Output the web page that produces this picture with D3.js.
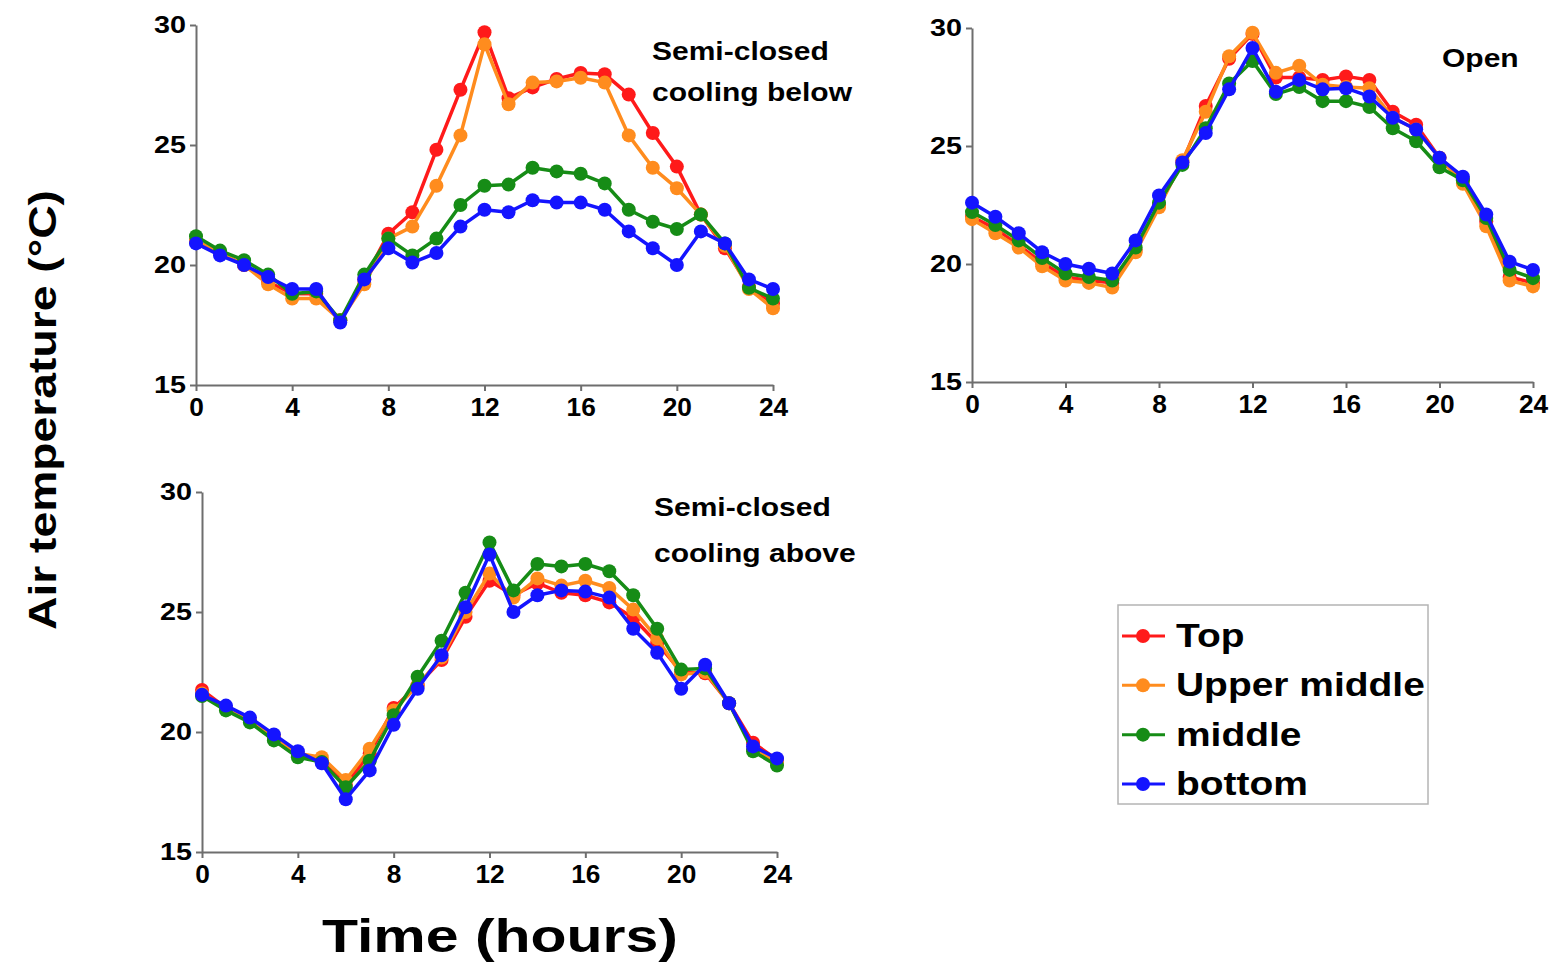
<!DOCTYPE html>
<html>
<head>
<meta charset="utf-8">
<script src="https://cdn.jsdelivr.net/npm/d3@7"></script>
<style>
  html, body { margin: 0; padding: 0; background: #fff; }
  svg { display: block; font-family: "Liberation Sans", Arial, sans-serif; font-weight: bold; }
</style>
</head>
<body>
<svg id="chart" width="1553" height="969"></svg>
<script>
// Air temperature by height, three greenhouse set-ups
// --- data ---
const hours = d3.range(0, 25);
const seriesNames = ['Top', 'Upper middle', 'middle', 'bottom'];
const xTicks = [0, 4, 8, 12, 16, 20, 24];
const yTicks = [15, 20, 25, 30];

// Semi-closed, cooling below
const belowTop    = [21.0,20.5,20.0,19.3,18.8,18.8,17.7,19.4,21.3,22.2,24.8,27.3,29.7,26.95,27.4,27.75,28.0,27.95,27.1,25.5,24.1,22.1,20.7,19.1,18.4];
const belowUpper  = [21.0,20.5,20.0,19.2,18.6,18.6,17.7,19.2,21.1,21.6,23.3,25.4,29.2,26.7,27.6,27.65,27.8,27.6,25.4,24.05,23.2,22.1,20.8,19.0,18.2];
const belowMiddle = [21.2,20.6,20.2,19.6,18.8,18.9,17.7,19.6,21.1,20.4,21.1,22.5,23.3,23.35,24.05,23.9,23.8,23.4,22.3,21.8,21.5,22.1,20.9,19.05,18.6];
const belowBottom = [20.9,20.4,20.0,19.5,19.0,19.0,17.6,19.4,20.7,20.1,20.5,21.6,22.3,22.2,22.7,22.6,22.6,22.3,21.4,20.7,20.0,21.4,20.9,19.4,19.0];

// Open
const openTop    = [22.0,21.5,20.8,20.05,19.45,19.3,19.2,20.6,22.5,24.3,26.7,28.7,29.75,27.9,27.9,27.8,27.95,27.8,26.45,25.9,24.5,23.6,21.8,19.45,19.2];
const openUpper  = [21.9,21.3,20.7,19.9,19.3,19.2,19.0,20.5,22.4,24.4,26.45,28.8,29.8,28.1,28.4,27.6,27.5,27.45,26.2,25.7,24.5,23.4,21.6,19.3,19.05];
const openMiddle = [22.2,21.65,21.0,20.25,19.6,19.45,19.3,20.7,22.6,24.2,25.75,27.65,28.6,27.2,27.5,26.9,26.9,26.65,25.75,25.2,24.1,23.55,21.95,19.75,19.4];
const openBottom = [22.6,22.0,21.3,20.5,20.0,19.8,19.6,21.0,22.9,24.3,25.55,27.4,29.15,27.3,27.8,27.4,27.45,27.1,26.2,25.7,24.5,23.7,22.1,20.1,19.75];

// Semi-closed, cooling above
const aboveTop    = [21.75,21.0,20.5,19.8,19.1,18.8,17.8,19.1,21.0,21.95,23.0,24.8,26.3,25.7,26.2,25.8,25.7,25.4,24.75,23.7,22.5,22.45,21.2,19.55,18.85];
const aboveUpper  = [21.6,21.0,20.5,19.8,19.1,18.95,18.0,19.3,20.9,21.95,23.1,25.0,26.6,25.6,26.4,26.1,26.3,26.0,25.1,23.9,22.4,22.5,21.2,19.3,18.75];
const aboveMiddle = [21.5,20.9,20.4,19.65,18.95,18.75,17.7,18.8,20.7,22.3,23.8,25.8,27.9,25.9,27.0,26.9,27.0,26.7,25.7,24.3,22.6,22.65,21.2,19.2,18.6];
const aboveBottom = [21.55,21.1,20.6,19.9,19.2,18.7,17.2,18.4,20.3,21.8,23.2,25.2,27.4,25.0,25.7,25.9,25.85,25.6,24.3,23.3,21.8,22.8,21.2,19.4,18.9];

// --- layout ---
const COLORS = ['#ff1a1a', '#ff8c1e', '#168c16', '#1414ff'];
const AXIS_COLOR = '#6e6e6e';

const panels = [
    { label: ['Semi-closed', 'cooling below'], series: [belowTop, belowUpper, belowMiddle, belowBottom],
      x0: 196, x1: 773, yTop: 25, yBot: 385, labelX: 652, labelY: [60, 101] },
    { label: ['Open'], series: [openTop, openUpper, openMiddle, openBottom],
      x0: 972, x1: 1533, yTop: 28, yBot: 382, labelX: 1442, labelY: [67] },
    { label: ['Semi-closed', 'cooling above'], series: [aboveTop, aboveUpper, aboveMiddle, aboveBottom],
      x0: 202, x1: 777, yTop: 492, yBot: 852, labelX: 654, labelY: [516, 562] }
];

const svg = d3.select('#chart');

// widen text horizontally like the original (figure was stretched)
function stretch(sel, k) {
    sel.each(function() {
        const len = this.getComputedTextLength();
        d3.select(this).attr('textLength', len * k).attr('lengthAdjust', 'spacingAndGlyphs');
    });
}

panels.forEach(p => {
    const x = d3.scaleLinear().domain([0, 24]).range([p.x0, p.x1]);
    const y = d3.scaleLinear().domain([15, 30]).range([p.yBot, p.yTop]);
    const g = svg.append('g');

    // axes
    const xAxis = g.append('g')
        .attr('transform', `translate(0,${p.yBot})`)
        .call(d3.axisBottom(x).tickValues(xTicks).tickSize(6).tickSizeOuter(0).tickPadding(7));
    const yAxis = g.append('g')
        .attr('transform', `translate(${p.x0},0)`)
        .call(d3.axisLeft(y).tickValues(yTicks).tickSize(6).tickSizeOuter(0).tickPadding(4));

    [xAxis, yAxis].forEach(a => {
        a.select('.domain').attr('stroke', AXIS_COLOR).attr('stroke-width', 2);
        a.selectAll('.tick line').attr('stroke', AXIS_COLOR).attr('stroke-width', 2);
        a.selectAll('.tick text').attr('fill', '#000').style('font-family', '"Liberation Sans", Arial, sans-serif').style('font-weight', 'bold');
    });
    xAxis.selectAll('.tick text').style('font-size', '25px').attr('dy', '0.72em');
    yAxis.selectAll('.tick text').style('font-size', '23px');
    stretch(xAxis.selectAll('.tick text'), 1.05);
    stretch(yAxis.selectAll('.tick text'), 1.25);

    // lines + markers
    const line = d3.line().x((d, i) => x(hours[i])).y(d => y(d));
    p.series.forEach((vals, si) => {
        g.append('path')
            .datum(vals)
            .attr('d', line)
            .attr('fill', 'none')
            .attr('stroke', COLORS[si])
            .attr('stroke-width', 3.5)
            .attr('stroke-linejoin', 'round');
        g.selectAll(null)
            .data(vals)
            .join('circle')
            .attr('cx', (d, i) => x(hours[i]))
            .attr('cy', d => y(d))
            .attr('r', 7)
            .attr('fill', COLORS[si]);
    });

    // panel label
    p.label.forEach((t, i) => {
        g.append('text')
            .attr('x', p.labelX)
            .attr('y', p.labelY[i])
            .style('font-size', '25px')
            .attr('fill', '#000')
            .text(t);
    });
    stretch(g.selectAll('text').filter(function() { return !this.closest('.tick'); }), 1.2);
});

// --- axis titles ---
svg.append('text')
    .attr('transform', 'translate(56,410) rotate(-90)')
    .attr('text-anchor', 'middle')
    .style('font-size', '38px')
    .attr('textLength', 440)
    .attr('lengthAdjust', 'spacingAndGlyphs')
    .text('Air temperature (°C)');

svg.append('text')
    .attr('x', 500)
    .attr('y', 952)
    .attr('text-anchor', 'middle')
    .style('font-size', '46px')
    .attr('textLength', 356)
    .attr('lengthAdjust', 'spacingAndGlyphs')
    .text('Time (hours)');

// --- legend ---
const legend = svg.append('g');
legend.append('rect')
    .attr('x', 1118).attr('y', 605)
    .attr('width', 310).attr('height', 199)
    .attr('fill', '#fff')
    .attr('stroke', '#b4b4b4')
    .attr('stroke-width', 1.5);

const legendY = d3.scalePoint().domain(seriesNames).range([636, 784]);
seriesNames.forEach((name, i) => {
    const cy = legendY(name);
    legend.append('line')
        .attr('x1', 1122).attr('x2', 1165)
        .attr('y1', cy).attr('y2', cy)
        .attr('stroke', COLORS[i]).attr('stroke-width', 3);
    legend.append('circle')
        .attr('cx', 1143).attr('cy', cy).attr('r', 7)
        .attr('fill', COLORS[i]);
    legend.append('text')
        .attr('x', 1176).attr('y', cy + 11)
        .style('font-size', '33px')
        .text(name);
});
stretch(legend.selectAll('text'), 1.18);
</script>
</body>
</html>
